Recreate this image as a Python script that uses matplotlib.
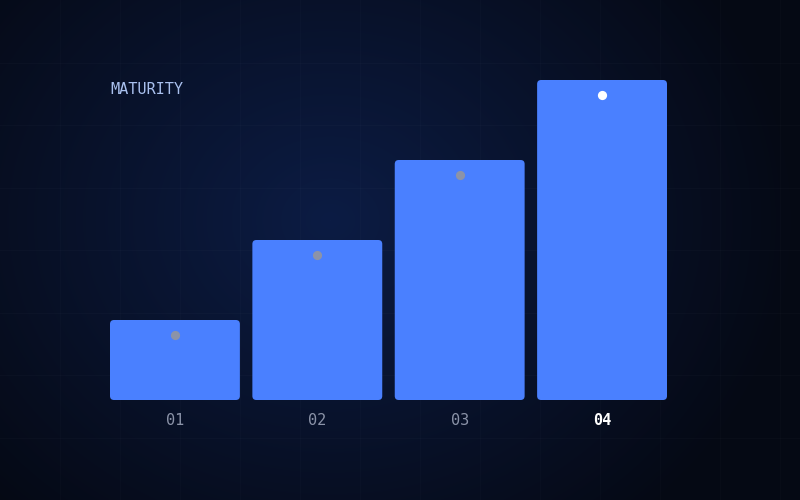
import numpy as np
import matplotlib
matplotlib.use("Agg")
import matplotlib.pyplot as plt
from matplotlib.patches import FancyBboxPatch

categories = ["01", "02", "03", "04"]
values = [1, 2, 3, 4]
title_text = "MATURITY"

BAR = "#4a80ff"
W, H = 800, 500
fig = plt.figure(figsize=(8, 5), dpi=100)

# background with radial glow and faint grid
bg = fig.add_axes([0, 0, 1, 1])
bg.set_xlim(0, W)
bg.set_ylim(H, 0)
bg.axis("off")
yy, xx = np.mgrid[0:H, 0:W]
d = np.sqrt(((xx - 330) / 1.0) ** 2 + ((yy - 220) / 0.85) ** 2)
t = np.clip(d / 470.0, 0, 1) ** 1.0
c0 = np.array([12, 28, 68]) / 255.0
c1 = np.array([5, 9, 20]) / 255.0
img = c0[None, None, :] * (1 - t[..., None]) + c1[None, None, :] * t[..., None]
bg.imshow(img, extent=(0, W, H, 0), aspect="auto", zorder=0)
for gx in np.arange(60, W, 60):
    bg.axvline(gx, color="white", alpha=0.016, lw=1, zorder=1)
for gy in np.arange(62.5, H, 62.5):
    bg.axhline(gy, color="white", alpha=0.02, lw=1, zorder=1)

# main axes
ax = fig.add_axes([110 / W, 100 / H, 557 / W, 320 / H])
ax.patch.set_alpha(0)
n = len(categories)
width = 130 / 142.5
ax.set_xlim(-width / 2, n - 1 + width / 2)
ax.set_ylim(0, 4)
xu = (n - 1 + width) / 557.0
yu = 4 / 320.0
r = 4 * xu
for i, v in enumerate(values):
    p = FancyBboxPatch((i - width / 2, 0), width, v,
                       boxstyle=f"round,pad=0,rounding_size={r}",
                       mutation_aspect=yu / xu, fc=BAR, ec="none", zorder=2)
    ax.add_patch(p)
    dot_c = "#ffffff" if i == n - 1 else "#8c93a8"
    ax.scatter([i], [v - 15 * yu], s=44, color=dot_c, zorder=3, linewidths=0)

for s in ax.spines.values():
    s.set_visible(False)
ax.set_yticks([])
ax.set_xticks(range(n))
ax.set_xticklabels(categories, family="DejaVu Sans Mono", fontsize=11)
ax.tick_params(axis="x", length=0, pad=9.5)
for i, lab in enumerate(ax.get_xticklabels()):
    if i == n - 1:
        lab.set_color("#ffffff")
        lab.set_fontweight("bold")
    else:
        lab.set_color("#8b93a8")

fig.text(110 / W, 1 - 90 / H, title_text, family="DejaVu Sans Mono", fontsize=11,
         color="#a9c0ee", va="center", ha="left")

fig.savefig("out.png", dpi=100, facecolor="#050914")
